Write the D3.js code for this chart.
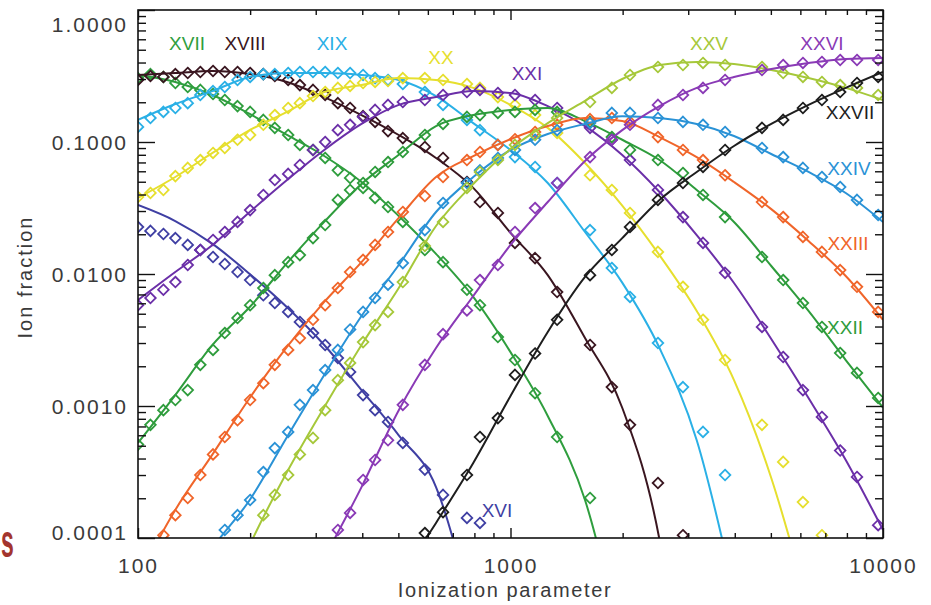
<!DOCTYPE html>
<html><head><meta charset="utf-8">
<script src="https://cdn.jsdelivr.net/npm/d3@7"></script>
<style>body{margin:0;background:#fff;}svg{display:block;}</style>
</head><body>
<svg id="chart" width="931" height="605"></svg>
<script>
// ---------------- DATA ----------------
const ions = ["XVI","XVII","XVIII","XIX","XX","XXI","XXII","XXIII","XXIV","XXV","XXVI","XXVII"];
const ionColors = ["#3f3fa3","#2f9e3e","#3a1620","#2ab0e6","#e6df2e","#6b2fa8","#2e9c3c","#f0652a","#2a92d6","#a6c83a","#8a3ab6","#1e1e1e"];

const xTicks = [100, 1000, 10000];
const yTicks = [0.0001, 0.001, 0.01, 0.1, 1];
const xTitle = "Ionization parameter";
const yTitle = "Ion fraction";

// model curves sampled on a 0.1-dex grid
const curveX = [100,125.9,158.5,199.5,251.2,316.2,398.1,501.2,631.0,794.3,1000,1259,1585,1995,2512,3162,3981,5012,6310,7943,10000];
const curveXVI   = [0.0333,0.0252,0.0169,0.0100,0.0056,0.0029,0.00132,0.00060,0.000243,0.000025,null,null,null,null,null,null,null,null,null,null,null];
const curveXVII  = [0.322,0.285,0.227,0.163,0.113,0.0783,0.0498,0.0275,0.0142,0.0067,0.00256,0.00084,0.000194,0.000015,null,null,null,null,null,null,null];
const curveXVIII = [0.322,0.333,0.345,0.327,0.285,0.219,0.160,0.113,0.0757,0.0449,0.0205,0.0098,0.00327,0.00097,0.000097,0.000001,null,null,null,null,null];
const curveXIX   = [0.147,0.194,0.243,0.311,0.333,0.333,0.322,0.295,0.223,0.139,0.087,0.0489,0.0208,0.0086,0.00275,0.00055,0.00004,null,null,null,null];
const curveXX    = [0.0377,0.0543,0.0826,0.123,0.169,0.239,0.270,0.305,0.295,0.257,0.191,0.128,0.0693,0.033,0.0139,0.00525,0.00157,0.000285,0.00003,null,null];
const curveXXI   = [0.00635,0.01035,0.0166,0.0295,0.0515,0.087,0.137,0.191,0.219,0.243,0.235,0.187,0.132,0.0797,0.0418,0.0197,0.00855,0.00322,0.00115,0.00039,0.000115];
const curveXXII  = [0.000525,0.00121,0.0029,0.00562,0.0121,0.0248,0.0481,0.080,0.132,0.160,0.175,0.181,0.144,0.104,0.073,0.0433,0.0248,0.0115,0.00525,0.00223,0.00097];
const curveXXIII = [0.00005,0.000163,0.00043,0.00115,0.0028,0.00614,0.0123,0.0266,0.0543,0.0783,0.105,0.132,0.152,0.144,0.109,0.0769,0.0498,0.031,0.0178,0.00966,0.0045];
const curveXXIV  = [null,0.00003,0.000084,0.000194,0.000582,0.00172,0.00481,0.0117,0.0295,0.0543,0.087,0.115,0.137,0.157,0.152,0.137,0.111,0.0811,0.0593,0.0411,0.0248];
const curveXXV   = [null,null,0.00002,0.0000885,0.000316,0.00098,0.0029,0.00783,0.0231,0.0481,0.0885,0.139,0.205,0.300,0.383,0.404,0.390,0.351,0.305,0.257,0.208];
const curveXXVI  = [null,null,null,null,0.00002,0.00007,0.000243,0.00093,0.00275,0.00681,0.0166,0.0351,0.0718,0.123,0.187,0.257,0.311,0.357,0.397,0.426,0.433];
const curveXXVII = [null,null,null,null,null,null,0.000012,0.000047,0.00013,0.00037,0.00119,0.00364,0.0095,0.0187,0.0364,0.0593,0.0933,0.137,0.191,0.257,0.339];

// observed points (diamonds)
const markerX = [100,108,117,126,136,147,159,171,185,200,217,233,253,272,295,318,344,371,402,433,469,514,589,659,764,828,925,1028,1164,1334,1635,1871,2093,2488,2904,3287,3767,4733,5395,6096,6855,7674,8515,9705];
const obsXVI   = [0.0227,0.0212,0.0201,0.0187,0.0166,0.0152,0.01345,0.0119,0.01035,0.0090,0.0069,0.00603,0.00516,0.00433,0.00357,0.0029,0.00231,0.00181,0.00121,0.00093,0.000757,0.000525,0.00033,0.000212,0.000142,0.00013,null,null,null,null,null,null,null,null,null,null,null,null,null,null,null,null,null,null];
const obsXVII  = [0.305,0.327,0.311,0.28,0.261,0.248,0.231,0.208,0.187,0.169,0.147,0.128,0.113,0.095,0.087,0.0757,0.061,0.0534,0.0449,0.0377,0.0322,0.0248,0.0152,0.0123,0.0076,0.0058,0.00333,0.00223,0.00125,0.000582,0.000201,null,null,null,null,null,null,null,null,null,null,null,null,null];
const obsXVIII = [0.295,0.316,0.311,0.327,0.333,0.339,0.345,0.339,0.339,0.333,0.327,0.316,0.295,0.270,0.248,0.227,0.197,0.181,0.157,0.142,0.121,0.107,0.0917,0.0757,0.0498,0.0351,0.029,0.0172,0.0132,0.0073,0.0029,0.00139,0.00072,0.000261,0.000105,null,null,null,null,null,null,null,null,null];
const obsXIX   = [0.13,0.152,0.169,0.181,0.197,0.227,0.243,0.261,0.295,0.311,0.327,0.327,0.333,0.339,0.339,0.339,0.333,0.333,0.322,0.305,0.295,0.275,0.239,0.191,0.147,0.123,0.095,0.0769,0.0647,0.0489,0.0215,0.0111,0.0067,0.003,0.00139,0.000636,0.0003,null,null,null,null,null,null,null];
const obsXX    = [0.0383,0.0411,0.0433,0.0552,0.0636,0.073,0.0826,0.0901,0.104,0.113,0.135,0.160,0.181,0.197,0.223,0.239,0.257,0.266,0.28,0.285,0.29,0.305,0.305,0.295,0.275,0.257,0.219,0.191,0.160,0.117,0.056,0.0433,0.029,0.0147,0.008,0.0045,0.00223,0.00072,0.000377,0.000187,0.000105,null,null,null];
const obsXXI   = [0.0058,0.00658,0.0076,0.00869,0.0117,0.0152,0.0181,0.0208,0.0248,0.0305,0.0397,0.0515,0.0573,0.067,0.087,0.1,0.123,0.135,0.155,0.175,0.191,0.201,0.208,0.227,0.239,0.248,0.235,0.227,0.208,0.181,0.128,0.104,0.073,0.0433,0.027,0.0172,0.0102,0.00397,0.00235,0.00132,0.000826,0.00046,0.00029,0.000125];
const obsXXII  = [0.00051,0.00072,0.00093,0.00111,0.00132,0.00205,0.00266,0.00357,0.00464,0.0058,0.00783,0.0098,0.0123,0.0139,0.0187,0.0235,0.0364,0.0433,0.0489,0.0593,0.0705,0.084,0.113,0.137,0.155,0.160,0.166,0.169,0.175,0.169,0.142,0.109,0.087,0.073,0.0582,0.0397,0.027,0.01345,0.009,0.00603,0.00397,0.00252,0.00178,0.00115];
const obsXXIII = [null,null,0.000105,0.000149,0.000201,0.0003,0.00043,0.000582,0.00078,0.00111,0.00149,0.00205,0.00266,0.00327,0.0045,0.0058,0.00783,0.01035,0.0128,0.0166,0.0208,0.0295,0.039,0.0543,0.073,0.084,0.095,0.105,0.119,0.135,0.149,0.152,0.142,0.109,0.087,0.073,0.056,0.0351,0.027,0.0191,0.0147,0.0107,0.008,0.00516];
const obsXXIV  = [null,null,null,null,null,null,null,0.000115,0.000149,0.000194,0.000316,0.00048,0.000636,0.00102,0.00132,0.00187,0.00266,0.0038,0.00516,0.00658,0.0083,0.0121,0.0215,0.0345,0.0489,0.061,0.0757,0.087,0.104,0.123,0.139,0.166,0.166,0.152,0.142,0.135,0.119,0.0901,0.0769,0.0636,0.0543,0.0456,0.0364,0.028];
const obsXXV   = [null,null,null,null,null,null,null,null,null,null,0.000149,0.000212,0.0003,0.00043,0.000573,0.00093,0.00157,0.00212,0.00305,0.0041,0.00516,0.00869,0.0163,0.0248,0.0449,0.0593,0.073,0.095,0.113,0.152,0.201,0.257,0.322,0.37,0.383,0.397,0.383,0.37,0.333,0.311,0.285,0.270,0.257,0.227];
const obsXXVI  = [null,null,null,null,null,null,null,null,null,null,null,null,null,null,null,null,0.000115,0.000155,0.000275,0.00039,0.00055,0.00102,0.00205,0.0035,0.0053,0.009,0.0117,0.0208,0.0316,0.0489,0.0769,0.104,0.135,0.191,0.227,0.257,0.295,0.351,0.383,0.397,0.404,0.418,0.418,0.418];
const obsXXVII = [null,null,null,null,null,null,null,null,null,null,null,null,null,null,null,null,null,null,null,null,null,null,0.000109,0.000157,0.0003,0.000582,0.00081,0.00172,0.0025,0.0045,0.0098,0.0152,0.0227,0.0364,0.0489,0.0647,0.087,0.128,0.147,0.181,0.208,0.239,0.28,0.311];

const curves = [curveXVI,curveXVII,curveXVIII,curveXIX,curveXX,curveXXI,curveXXII,curveXXIII,curveXXIV,curveXXV,curveXXVI,curveXXVII];
const observed = [obsXVI,obsXVII,obsXVIII,obsXIX,obsXX,obsXXI,obsXXII,obsXXIII,obsXXIV,obsXXV,obsXXVI,obsXXVII];

// ---------------- LAYOUT ----------------
const plot = {left:138, right:883, top:10, bottom:538};
// ion label anchor points (pixels, label centre)
const labelLayout = [[497,510],[187,43],[245,43],[332,43],[441,57],[527,73],[845,327],[848,243],[849,168],[709,43],[822,43],[850,112]];
const fontFam = "'Liberation Sans', Arial, Helvetica, sans-serif";

const svg = d3.select("#chart");
svg.append("rect").attr("width",931).attr("height",605).attr("fill","#fff");

const x = d3.scaleLog().domain([xTicks[0], xTicks[xTicks.length-1]]).range([plot.left, plot.right]);
const y = d3.scaleLog().domain([yTicks[0], yTicks[yTicks.length-1]]).range([plot.bottom, plot.top]);

const xMinor = x.ticks().filter(v => !xTicks.some(t => Math.abs(t - v) < 1e-9 * t));
const yMinor = y.ticks().filter(v => !yTicks.some(t => Math.abs(t - v) < 1e-6 * t));

// clip
svg.append("clipPath").attr("id","clip").append("rect")
  .attr("x",plot.left).attr("y",plot.top).attr("width",plot.right-plot.left).attr("height",plot.bottom-plot.top);

const dataG = svg.append("g").attr("clip-path","url(#clip)");

const line = d3.line()
  .defined(d => d[1] != null)
  .x(d => x(d[0])).y(d => y(d[1]))
  .curve(d3.curveMonotoneX);

const diamond = r => `M0,${-r}L${r},0L0,${r}L${-r},0Z`;

ions.forEach((ion, i) => {
  const col = ionColors[i];
  const pts = curveX.map((xv, j) => [xv, curves[i][j]]);
  dataG.append("path").datum(pts)
    .attr("d", line).attr("fill","none").attr("stroke",col).attr("stroke-width",2);
  const obs = markerX.map((xv, j) => [xv, observed[i][j]]).filter(d => d[1] != null);
  dataG.append("g").selectAll("path").data(obs).join("path")
    .attr("transform", d => `translate(${x(d[0])},${y(d[1])})`)
    .attr("d", diamond(5.3))
    .attr("fill","none").attr("stroke",col).attr("stroke-width",1.8);
});

// axes
function styleAxis(g){
  g.select(".domain").remove();
  g.selectAll(".tick line").attr("stroke","#111").attr("stroke-width",1.4);
  g.selectAll(".tick text").attr("fill","#3a3a3a").style("font-family",fontFam).style("font-size","21px").style("letter-spacing","2px");
}
svg.append("g").attr("transform",`translate(0,${plot.bottom})`)
  .call(d3.axisBottom(x).tickValues(xTicks).tickSize(-10).tickSizeOuter(0).tickPadding(20).tickFormat(d3.format("d"))).call(styleAxis);
svg.append("g").attr("transform",`translate(0,${plot.bottom})`)
  .call(d3.axisBottom(x).tickValues(xMinor).tickSize(-5).tickSizeOuter(0).tickFormat("")).call(styleAxis);
svg.append("g").attr("transform",`translate(0,${plot.top})`)
  .call(d3.axisTop(x).tickValues(xTicks).tickSize(-10).tickSizeOuter(0).tickFormat("")).call(styleAxis);
svg.append("g").attr("transform",`translate(0,${plot.top})`)
  .call(d3.axisTop(x).tickValues(xMinor).tickSize(-5).tickSizeOuter(0).tickFormat("")).call(styleAxis);

const yAxisL = svg.append("g").attr("transform",`translate(${plot.left},0)`)
  .call(d3.axisLeft(y).tickValues(yTicks).tickSize(-17).tickSizeOuter(0).tickPadding(10).tickFormat(d3.format(".4f"))).call(styleAxis);
yAxisL.selectAll(".tick text").attr("dy", d => d === yTicks[yTicks.length-1] ? "1.0em" : (d === yTicks[0] ? "0.08em" : "0.38em"));
svg.append("g").attr("transform",`translate(${plot.left},0)`)
  .call(d3.axisLeft(y).tickValues(yMinor).tickSize(-8).tickSizeOuter(0).tickFormat("")).call(styleAxis);
svg.append("g").attr("transform",`translate(${plot.right},0)`)
  .call(d3.axisRight(y).tickValues(yTicks).tickSize(-17).tickSizeOuter(0).tickFormat("")).call(styleAxis);
svg.append("g").attr("transform",`translate(${plot.right},0)`)
  .call(d3.axisRight(y).tickValues(yMinor).tickSize(-8).tickSizeOuter(0).tickFormat("")).call(styleAxis);

// frame
svg.append("rect").attr("x",plot.left).attr("y",plot.top)
  .attr("width",plot.right-plot.left).attr("height",plot.bottom-plot.top)
  .attr("fill","none").attr("stroke","#111").attr("stroke-width",1.6);

// ion labels
svg.append("g").selectAll("text").data(ions).join("text")
  .attr("x",(d,i)=>labelLayout[i][0]).attr("y",(d,i)=>labelLayout[i][1]+6.8)
  .attr("text-anchor","middle").attr("fill",(d,i)=>ionColors[i])
  .style("font-family",fontFam).style("font-size","19px")
  .text(d=>d);

// axis titles
svg.append("text").attr("x",505).attr("y",597).attr("text-anchor","middle")
  .attr("fill","#3a3a3a").style("font-family",fontFam).style("font-size","20px").style("letter-spacing","1.6px")
  .text(xTitle);
svg.append("text").attr("transform","translate(32,277) rotate(-90)").attr("text-anchor","middle")
  .attr("fill","#3a3a3a").style("font-family",fontFam).style("font-size","20px").style("letter-spacing","2px")
  .text(yTitle);

// fragment of a letter at the left edge of the original picture (kept fully visible, narrowed)
svg.append("text").attr("transform","translate(1,557) scale(0.5,1)").attr("fill","#a3352e")
  .style("font-family",fontFam).style("font-size","46px").style("font-weight","bold").text("s");
</script>
</body></html>
